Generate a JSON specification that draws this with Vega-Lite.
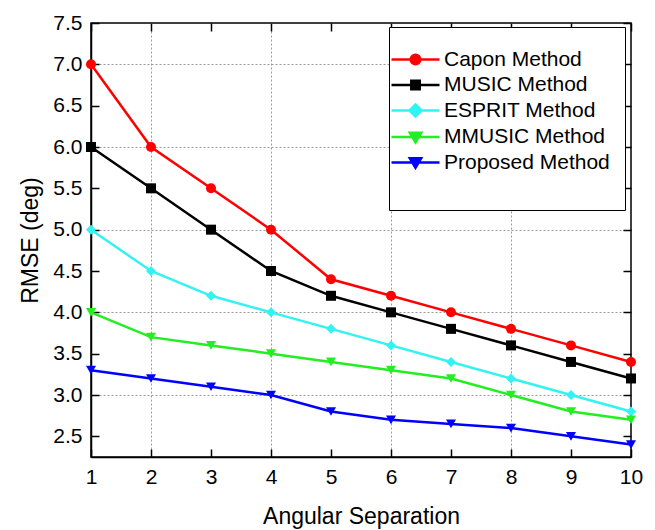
{
  "$schema": "https://vega.github.io/schema/vega-lite/v6.json",
  "autosize": "none",
  "width": 540,
  "height": 434,
  "padding": {"left": 91, "top": 23, "right": 24, "bottom": 73},
  "background": "white",
  "config": {"view": {"stroke": "black", "strokeWidth": 1.5}, "font": "Liberation Sans"},
  "data": {"values": [
    {"x": 1, "rmse": 7.0, "method": "Capon Method"},
    {"x": 2, "rmse": 6.0, "method": "Capon Method"},
    {"x": 3, "rmse": 5.5, "method": "Capon Method"},
    {"x": 4, "rmse": 5.0, "method": "Capon Method"},
    {"x": 5, "rmse": 4.4, "method": "Capon Method"},
    {"x": 6, "rmse": 4.2, "method": "Capon Method"},
    {"x": 7, "rmse": 4.0, "method": "Capon Method"},
    {"x": 8, "rmse": 3.8, "method": "Capon Method"},
    {"x": 9, "rmse": 3.6, "method": "Capon Method"},
    {"x": 10, "rmse": 3.4, "method": "Capon Method"},
    {"x": 1, "rmse": 6.0, "method": "MUSIC Method"},
    {"x": 2, "rmse": 5.5, "method": "MUSIC Method"},
    {"x": 3, "rmse": 5.0, "method": "MUSIC Method"},
    {"x": 4, "rmse": 4.5, "method": "MUSIC Method"},
    {"x": 5, "rmse": 4.2, "method": "MUSIC Method"},
    {"x": 6, "rmse": 4.0, "method": "MUSIC Method"},
    {"x": 7, "rmse": 3.8, "method": "MUSIC Method"},
    {"x": 8, "rmse": 3.6, "method": "MUSIC Method"},
    {"x": 9, "rmse": 3.4, "method": "MUSIC Method"},
    {"x": 10, "rmse": 3.2, "method": "MUSIC Method"},
    {"x": 1, "rmse": 5.0, "method": "ESPRIT Method"},
    {"x": 2, "rmse": 4.5, "method": "ESPRIT Method"},
    {"x": 3, "rmse": 4.2, "method": "ESPRIT Method"},
    {"x": 4, "rmse": 4.0, "method": "ESPRIT Method"},
    {"x": 5, "rmse": 3.8, "method": "ESPRIT Method"},
    {"x": 6, "rmse": 3.6, "method": "ESPRIT Method"},
    {"x": 7, "rmse": 3.4, "method": "ESPRIT Method"},
    {"x": 8, "rmse": 3.2, "method": "ESPRIT Method"},
    {"x": 9, "rmse": 3.0, "method": "ESPRIT Method"},
    {"x": 10, "rmse": 2.8, "method": "ESPRIT Method"},
    {"x": 1, "rmse": 4.0, "method": "MMUSIC Method"},
    {"x": 2, "rmse": 3.7, "method": "MMUSIC Method"},
    {"x": 3, "rmse": 3.6, "method": "MMUSIC Method"},
    {"x": 4, "rmse": 3.5, "method": "MMUSIC Method"},
    {"x": 5, "rmse": 3.4, "method": "MMUSIC Method"},
    {"x": 6, "rmse": 3.3, "method": "MMUSIC Method"},
    {"x": 7, "rmse": 3.2, "method": "MMUSIC Method"},
    {"x": 8, "rmse": 3.0, "method": "MMUSIC Method"},
    {"x": 9, "rmse": 2.8, "method": "MMUSIC Method"},
    {"x": 10, "rmse": 2.7, "method": "MMUSIC Method"},
    {"x": 1, "rmse": 3.3, "method": "Proposed Method"},
    {"x": 2, "rmse": 3.2, "method": "Proposed Method"},
    {"x": 3, "rmse": 3.1, "method": "Proposed Method"},
    {"x": 4, "rmse": 3.0, "method": "Proposed Method"},
    {"x": 5, "rmse": 2.8, "method": "Proposed Method"},
    {"x": 6, "rmse": 2.7, "method": "Proposed Method"},
    {"x": 7, "rmse": 2.65, "method": "Proposed Method"},
    {"x": 8, "rmse": 2.6, "method": "Proposed Method"},
    {"x": 9, "rmse": 2.5, "method": "Proposed Method"},
    {"x": 10, "rmse": 2.4, "method": "Proposed Method"}
  ]},
  "layer": [
    {
      "mark": {"type": "line", "strokeWidth": 2.5},
      "encoding": {
        "x": {"field": "x", "type": "quantitative",
          "scale": {"domain": [1, 10], "nice": false, "zero": false},
          "axis": {"orient": "bottom", "values": [1,2,3,4,5,6,7,8,9,10], "format": "d",
            "tickSize": -8, "tickColor": "black", "tickWidth": 1.5,
            "domainColor": "black", "domainWidth": 1.5,
            "labelFontSize": 21, "labelColor": "black", "labelPadding": 17, "labelFlush": false,
            "title": "Angular Separation", "titleFontSize": 23, "titleFontWeight": "normal", "titleColor": "black", "titlePadding": 18,
            "grid": false}},
        "y": {"field": "rmse", "type": "quantitative",
          "scale": {"domain": [2.25, 7.5], "nice": false, "zero": false},
          "axis": {"orient": "left", "values": [2.5,3,3.5,4,4.5,5,5.5,6,6.5,7,7.5], "format": ".1f",
            "tickSize": -8, "tickColor": "black", "tickWidth": 1.5,
            "domainColor": "black", "domainWidth": 1.5,
            "labelFontSize": 21, "labelColor": "black", "labelPadding": 17, "labelFlush": false,
            "title": "RMSE (deg)", "titleFontSize": 23, "titleFontWeight": "normal", "titleColor": "black", "titlePadding": 10,
            "grid": false}},
        "color": {"field": "method", "type": "nominal",
          "scale": {"domain": ["Capon Method", "MUSIC Method", "ESPRIT Method", "MMUSIC Method", "Proposed Method"],
                    "range": ["#ff0000", "#000000", "#33f2f2", "#22ee22", "#0000ff"]},
          "legend": null}
      }
    },
    {
      "mark": {"type": "point", "filled": true, "size": 100, "opacity": 1},
      "encoding": {
        "x": {"field": "x", "type": "quantitative",
          "axis": {"orient": "top", "values": [1,2,3,4,5,6,7,8,9,10], "labels": false, "title": null,
            "tickSize": -8, "tickColor": "black", "tickWidth": 1.5, "domain": false, "grid": false}},
        "y": {"field": "rmse", "type": "quantitative",
          "axis": {"orient": "right", "values": [2.5,3,3.5,4,4.5,5,5.5,6,6.5,7,7.5], "labels": false, "title": null,
            "tickSize": -8, "tickColor": "black", "tickWidth": 1.5, "domain": false, "grid": false}},
        "color": {"field": "method", "type": "nominal", "legend": null},
        "shape": {"field": "method", "type": "nominal",
          "scale": {"domain": ["Capon Method", "MUSIC Method", "ESPRIT Method", "MMUSIC Method", "Proposed Method"],
                    "range": ["circle", "square", "diamond", "triangle-down", "triangle-down"]},
          "legend": null}
      }
    },
    {
      "mark": {"type": "point", "filled": true, "opacity": 0},
      "encoding": {
        "x": {"field": "x", "type": "quantitative",
          "axis": {"orient": "bottom", "values": [2,4,6,8], "grid": true, "ticks": false, "labels": false, "domain": false, "title": null,
            "gridColor": "#999999", "gridDash": [2, 2], "gridWidth": 1}},
        "y": {"field": "rmse", "type": "quantitative",
          "axis": {"orient": "left", "values": [3,4,5,6,7], "grid": true, "ticks": false, "labels": false, "domain": false, "title": null,
            "gridColor": "#999999", "gridDash": [2, 2], "gridWidth": 1}},
        "shape": {"field": "method", "type": "nominal",
          "scale": {"domain": ["Capon Method", "MUSIC Method", "ESPRIT Method", "MMUSIC Method", "Proposed Method"],
                    "range": [
                      "M-4,0H4M-0.8,0A0.8,0.8,0,1,0,0.8,0A0.8,0.8,0,1,0,-0.8,0Z",
                      "M-4,0H4M-0.7,-0.7H0.7V0.7H-0.7Z",
                      "M-4,0H4M0,-1L1,0L0,1L-1,0Z",
                      "M-4,0H4M-0.95,-0.7H0.95L0,0.9Z",
                      "M-4,0H4M-0.95,-0.7H0.95L0,0.9ZM0,4.45"
                    ]},
          "legend": {"orient": "none", "legendX": 298, "legendY": 4, "title": " ", "titleFontSize": 5, "titlePadding": 2,
            "strokeColor": "black", "fillColor": "white", "padding": 15, "cornerRadius": 0,
            "labelFontSize": 21, "labelColor": "black", "labelFont": "Liberation Sans", "labelLimit": 400,
            "symbolSize": 144, "symbolStrokeWidth": 2.5, "symbolOpacity": 1,
            "symbolOffset": 1, "labelOffset": 18, "rowPadding": 3.5,
            "encoding": {
              "symbols": {
                "fill": {"value": {"expr": "scale('color', datum.value)"}},
                "stroke": {"value": {"expr": "scale('color', datum.value)"}},
                "opacity": {"value": 1}
              }
            }}}
      }
    }
  ],
  "resolve": {"axis": {"x": "independent", "y": "independent"}, "scale": {"shape": "independent"}}
}
